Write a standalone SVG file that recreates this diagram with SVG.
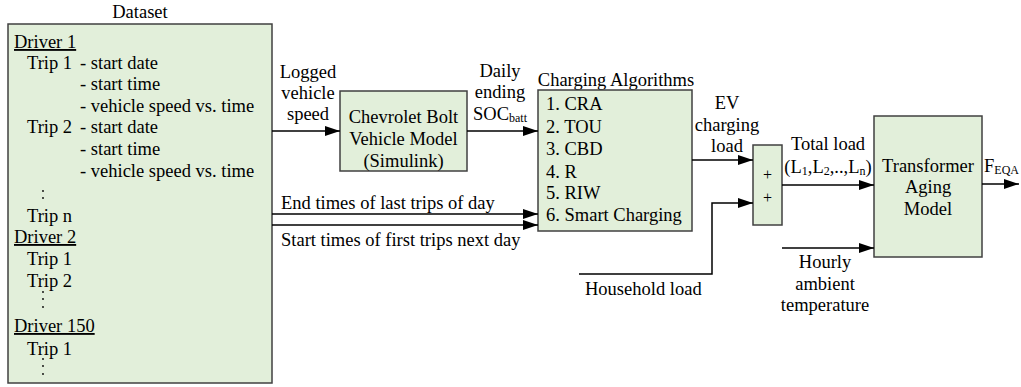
<svg xmlns="http://www.w3.org/2000/svg" width="1021" height="387" viewBox="0 0 1021 387">
<defs>
<style>
text{font-family:'Liberation Serif','Times New Roman',serif;font-size:18.5px;fill:#000}
.box{fill:#e2efda;stroke:#404040;stroke-width:1.5}
.c{text-anchor:middle}
.u{text-decoration:underline}
.sub{font-size:12px}
.con{fill:none;stroke:#000;stroke-width:1.5}
.dot{fill:#000}
</style>
<marker id="ah" markerUnits="userSpaceOnUse" markerWidth="16" markerHeight="12" refX="15" refY="5" orient="auto">
<path d="M0,0 L15,5 L0,10 Z" fill="#000"/>
</marker>
</defs>
<rect width="1021" height="387" fill="#fff"/>

<g id="dataset">
<text x="140" y="18" class="c">Dataset</text>
<rect class="box" x="8" y="24" width="264" height="359"/>
<text x="14" y="48" class="u">Driver 1</text>
<text x="27" y="69">Trip 1</text>
<text x="80" y="69">- start date</text>
<text x="80" y="90">- start time</text>
<text x="80" y="112">- vehicle speed vs. time</text>
<text x="27" y="133">Trip 2</text>
<text x="80" y="133">- start date</text>
<text x="80" y="155">- start time</text>
<text x="80" y="177">- vehicle speed vs. time</text>
<circle class="dot" cx="43" cy="191" r="0.9"/>
<circle class="dot" cx="43" cy="198" r="0.9"/>
<text x="27" y="222">Trip n</text>
<text x="14" y="243" class="u">Driver 2</text>
<text x="27" y="265">Trip 1</text>
<text x="27" y="287">Trip 2</text>
<circle class="dot" cx="43" cy="292" r="0.9"/>
<circle class="dot" cx="43" cy="299" r="0.9"/>
<circle class="dot" cx="43" cy="307" r="0.9"/>
<text x="14" y="332" class="u">Driver 150</text>
<text x="27" y="355">Trip 1</text>
<circle class="dot" cx="43" cy="359" r="0.9"/>
<circle class="dot" cx="43" cy="366" r="0.9"/>
<circle class="dot" cx="43" cy="374" r="0.9"/>
</g>

<g id="vehicle-model">
<rect class="box" x="340" y="91" width="127" height="80"/>
<text x="403.5" y="123" class="c">Chevrolet Bolt</text>
<text x="403.5" y="145" class="c">Vehicle Model</text>
<text x="403.5" y="167" class="c">(Simulink)</text>
</g>

<g id="charging-algorithms">
<text x="616" y="86" class="c">Charging Algorithms</text>
<rect class="box" x="538" y="90" width="154" height="141"/>
<text x="546" y="110">1. CRA</text>
<text x="546" y="133">2. TOU</text>
<text x="546" y="155">3. CBD</text>
<text x="546" y="178">4. R</text>
<text x="546" y="199">5. RIW</text>
<text x="546" y="221">6. Smart Charging</text>
</g>

<g id="summation">
<rect class="box" x="753" y="145" width="29" height="80"/>
<text x="767.5" y="180" class="c" style="font-size:16px">+</text>
<text x="767.5" y="203" class="c" style="font-size:16px">+</text>
</g>

<g id="transformer">
<rect class="box" x="874" y="116" width="108" height="141"/>
<text x="928" y="172" class="c">Transformer</text>
<text x="928" y="193" class="c">Aging</text>
<text x="928" y="215" class="c">Model</text>
</g>

<g id="connectors">
<path class="con" d="M272,131 H340" marker-end="url(#ah)"/>
<path class="con" d="M467,131 H538" marker-end="url(#ah)"/>
<path class="con" d="M272,214 H538" marker-end="url(#ah)"/>
<path class="con" d="M272,225 H538" marker-end="url(#ah)"/>
<path class="con" d="M692,160 H753" marker-end="url(#ah)"/>
<path class="con" d="M579,274 H712 V203 H753" marker-end="url(#ah)"/>
<path class="con" d="M782,185 H874" marker-end="url(#ah)"/>
<path class="con" d="M782,248 H874" marker-end="url(#ah)"/>
<path class="con" d="M982,184 H1019" marker-end="url(#ah)"/>
</g>

<g id="labels">
<text x="308" y="78" class="c">Logged</text>
<text x="308" y="99" class="c">vehicle</text>
<text x="308" y="120" class="c">speed</text>
<text x="500" y="77" class="c">Daily</text>
<text x="500" y="98" class="c">ending</text>
<text x="500" y="120" class="c">SOC<tspan class="sub" dy="2">batt</tspan></text>
<text x="281" y="209">End times of last trips of day</text>
<text x="281" y="246">Start times of first trips next day</text>
<text x="727" y="109" class="c">EV</text>
<text x="727" y="131" class="c">charging</text>
<text x="727" y="152" class="c">load</text>
<text x="585" y="295">Household load</text>
<text x="828" y="150" class="c">Total load</text>
<text x="828" y="173" class="c">(L<tspan class="sub" dy="2">1</tspan><tspan dy="-2">,L</tspan><tspan class="sub" dy="2">2</tspan><tspan dy="-2">,..,L</tspan><tspan class="sub" dy="2">n</tspan><tspan dy="-2">)</tspan></text>
<text x="825" y="268" class="c">Hourly</text>
<text x="825" y="290" class="c">ambient</text>
<text x="825" y="311" class="c">temperature</text>
<text x="984" y="172">F<tspan class="sub" dy="2">EQA</tspan></text>
</g>
</svg>
